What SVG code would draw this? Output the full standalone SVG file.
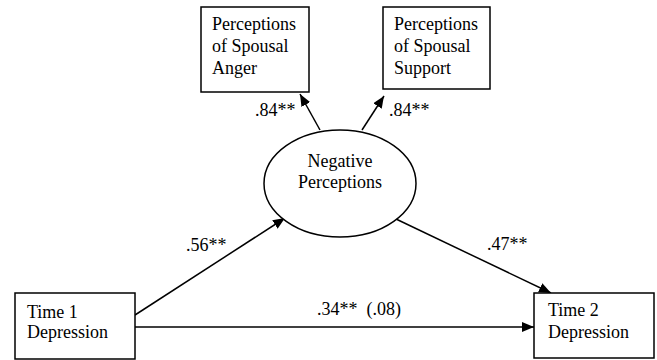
<svg xmlns="http://www.w3.org/2000/svg" width="657" height="360" viewBox="0 0 657 360">
<style>
  .box { fill: #fff; stroke: #000; stroke-width: 1.5; }
  .t { font-family: "Liberation Serif", "Times New Roman", serif; font-size: 18px; fill: #000; }
  .c { fill: none; stroke: #000; stroke-width: 1.5; }
</style>
<defs>
  <marker id="ah" viewBox="0 0 12 10" refX="12" refY="5" markerWidth="12" markerHeight="10" markerUnits="userSpaceOnUse" orient="auto">
    <path d="M0,0 L12,5 L0,10 Z" fill="#000"/>
  </marker>
</defs>
<rect width="657" height="360" fill="#fff"/>
<g id="connectors">
  <line class="c" x1="320" y1="130" x2="300" y2="94" marker-end="url(#ah)"/>
  <line class="c" x1="362" y1="130" x2="384" y2="96" marker-end="url(#ah)"/>
  <line class="c" x1="135" y1="315" x2="285" y2="218" marker-end="url(#ah)"/>
  <line class="c" x1="396" y1="219" x2="551" y2="293" marker-end="url(#ah)"/>
  <line class="c" x1="135" y1="327" x2="534" y2="327" marker-end="url(#ah)"/>
  <text class="t" x="255" y="116">.84**</text>
  <text class="t" x="389" y="116">.84**</text>
  <text class="t" x="186" y="251">.56**</text>
  <text class="t" x="487" y="250">.47**</text>
  <text class="t" x="317" y="315" xml:space="preserve">.34**  (.08)</text>
</g>
<g id="anger">
  <rect class="box" x="201" y="7" width="108" height="85"/>
  <text class="t" x="212" y="30">Perceptions</text>
  <text class="t" x="212" y="52">of Spousal</text>
  <text class="t" x="212" y="74">Anger</text>
</g>
<g id="support">
  <rect class="box" x="383" y="7" width="107" height="82"/>
  <text class="t" x="394" y="30">Perceptions</text>
  <text class="t" x="394" y="52">of Spousal</text>
  <text class="t" x="394" y="74">Support</text>
</g>
<g id="negative">
  <ellipse class="box" cx="340" cy="183.5" rx="76" ry="53.5"/>
  <text class="t" x="340" y="167" text-anchor="middle">Negative</text>
  <text class="t" x="340" y="188" text-anchor="middle">Perceptions</text>
</g>
<g id="time1">
  <rect class="box" x="15" y="293" width="120" height="66"/>
  <text class="t" x="27" y="318">Time 1</text>
  <text class="t" x="27" y="338">Depression</text>
</g>
<g id="time2">
  <rect class="box" x="534" y="293" width="120" height="65"/>
  <text class="t" x="548" y="316">Time 2</text>
  <text class="t" x="548" y="338">Depression</text>
</g>
</svg>
